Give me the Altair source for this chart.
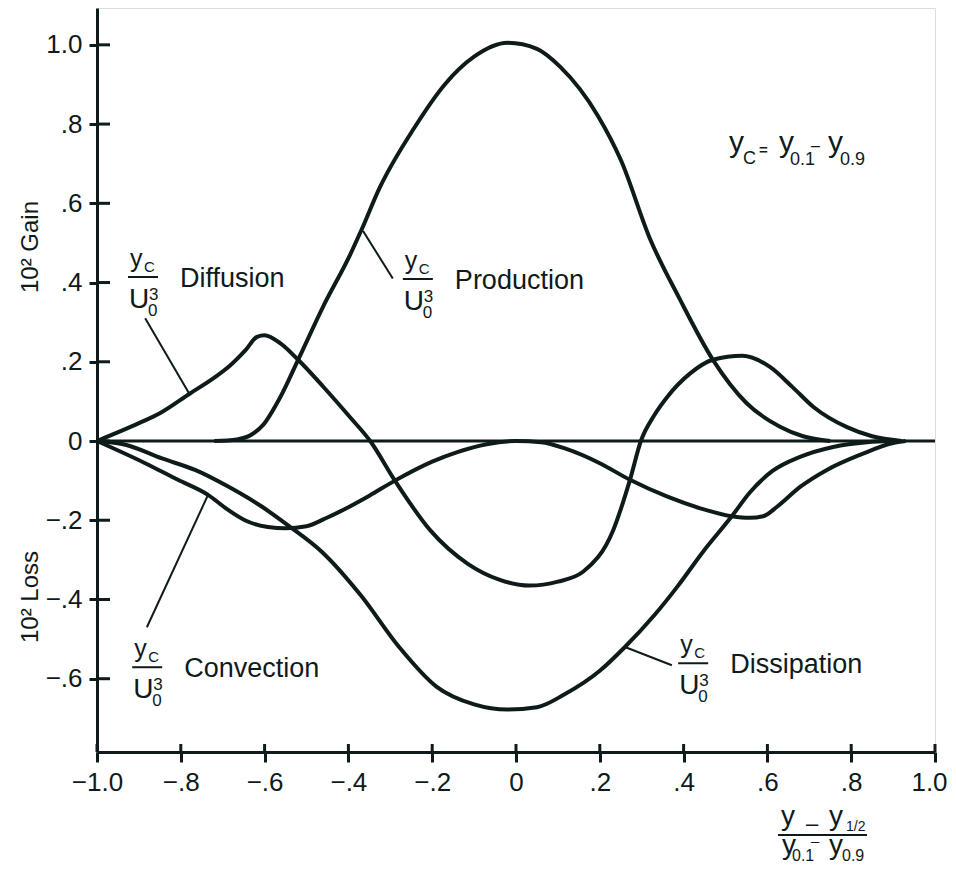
import altair as alt
import pandas as pd

# ---------------- data ----------------
prod_x = [-0.72, -0.666, -0.63, -0.604, -0.563, -0.52, -0.46, -0.396, -0.37, -0.325, -0.243, -0.17, -0.1, -0.02,
          0.05, 0.105, 0.196, 0.25, 0.32, 0.39, 0.47, 0.55, 0.63, 0.685, 0.75]
prod_y = [0.0, 0.004, 0.017, 0.04, 0.11, 0.205, 0.34, 0.47, 0.53, 0.64, 0.79, 0.90, 0.97, 1.005,
          0.99, 0.945, 0.82, 0.71, 0.51, 0.36, 0.205, 0.096, 0.036, 0.012, 0.0]

diff_x = [-1.0, -0.9, -0.85, -0.778, -0.72, -0.683, -0.645, -0.618, -0.6, -0.563, -0.52, -0.46, -0.396, -0.348,
          -0.289, -0.205, -0.115, -0.04, 0.031, 0.1, 0.16, 0.232, 0.272, 0.298, 0.33, 0.36, 0.415, 0.47, 0.54,
          0.606, 0.66, 0.71, 0.79, 0.85, 0.92]
diff_y = [0.0, 0.045, 0.07, 0.12, 0.16, 0.19, 0.23, 0.263, 0.267, 0.247, 0.205, 0.137, 0.06, 0.0,
          -0.1, -0.225, -0.31, -0.35, -0.365, -0.355, -0.33, -0.225, -0.098, 0.0, 0.065, 0.11, 0.17, 0.205, 0.215,
          0.187, 0.136, 0.086, 0.035, 0.012, 0.0]

conv_x = [-1.0, -0.885, -0.807, -0.735, -0.687, -0.647, -0.592, -0.55, -0.5, -0.45, -0.4, -0.35, -0.289, -0.2,
          -0.14, -0.07, 0.0, 0.06, 0.12, 0.2, 0.272, 0.36, 0.44, 0.515, 0.558, 0.59, 0.623, 0.678, 0.742, 0.821,
          0.9, 0.93]
conv_y = [0.0, -0.056, -0.098, -0.136, -0.174, -0.2, -0.217, -0.22, -0.215, -0.193, -0.167, -0.138, -0.1, -0.052,
          -0.028, -0.008, 0.0, -0.003, -0.02, -0.056, -0.098, -0.14, -0.17, -0.19, -0.194, -0.19, -0.166, -0.116,
          -0.073, -0.035, -0.005, 0.0]

diss_x = [-1.0, -0.93, -0.845, -0.766, -0.687, -0.606, -0.544, -0.463, -0.37, -0.279, -0.19, -0.1, -0.02,
          0.05, 0.115, 0.2, 0.26, 0.33, 0.387, 0.446, 0.515, 0.558, 0.613, 0.678, 0.757, 0.838, 0.9]
diss_y = [0.0, -0.01, -0.044, -0.073, -0.115, -0.166, -0.213, -0.28, -0.39, -0.52, -0.62, -0.665, -0.678,
          -0.672, -0.64, -0.58, -0.52, -0.44, -0.365, -0.28, -0.19, -0.13, -0.075, -0.04, -0.015, -0.003, 0.0]

series = ["Production", "Diffusion", "Convection", "Dissipation"]

x_ticks = [-1.0, -0.8, -0.6, -0.4, -0.2, 0.0, 0.2, 0.4, 0.6, 0.8, 1.0]
x_tick_labels = ["\u22121.0", "\u2212.8", "\u2212.6", "\u2212.4", "\u2212.2", "0", ".2", ".4", ".6", ".8", "1.0"]
y_ticks = [-0.6, -0.4, -0.2, 0.0, 0.2, 0.4, 0.6, 0.8, 1.0]
y_tick_labels = ["\u2212.6", "\u2212.4", "\u2212.2", "0", ".2", ".4", ".6", ".8", "1.0"]

# label anchors (left end of the fraction bar) and leader lines, in data units
label_x = [-0.270, -0.926, -0.916, 0.387]
label_y = [0.409, 0.414, -0.571, -0.561]
leader_x0 = [-0.365, -0.885, -0.881, 0.372]
leader_y0 = [0.53, 0.31, -0.47, -0.566]
leader_x1 = [-0.294, -0.778, -0.735, 0.26]
leader_y1 = [0.41, 0.116, -0.136, -0.52]

# ---------------- build tables ----------------
curves = pd.concat([
    pd.DataFrame({"x": prod_x, "y": prod_y, "s": "Production"}),
    pd.DataFrame({"x": diff_x, "y": diff_y, "s": "Diffusion"}),
    pd.DataFrame({"x": conv_x, "y": conv_y, "s": "Convection"}),
    pd.DataFrame({"x": diss_x, "y": diss_y, "s": "Dissipation"}),
], ignore_index=True)

zero_df = pd.DataFrame({"x": [-1.0, 1.0], "y": [0.0, 0.0]})

BAR_W = 30 / 419.0
labels = pd.DataFrame({"s": series, "x": label_x, "y": label_y,
                       "x2": [v + BAR_W for v in label_x]})
leaders = pd.concat([
    pd.DataFrame({"s": series, "x": leader_x0, "y": leader_y0, "o": 0}),
    pd.DataFrame({"s": series, "x": leader_x1, "y": leader_y1, "o": 1}),
], ignore_index=True)

xt_df = pd.DataFrame({"v": x_ticks})
yt_df = pd.DataFrame({"v": y_ticks})
one = pd.DataFrame({"a": [0]})

INK = "#0f1a1a"
FONT = "Liberation Sans"
W, H = 838, 744
OX, OY = 97, 8  # page position of plot origin

x_expr = "[" + ",".join("'%s'" % s for s in x_tick_labels) + "][round((datum.value + 1) * 5)]"
y_expr = "[" + ",".join("'%s'" % s for s in y_tick_labels) + "][round((datum.value + 0.6) * 5)]"

xs = alt.Scale(domain=[-1.0, 1.0], nice=False, zero=False)
ys = alt.Scale(domain=[-0.785, 1.093], nice=False, zero=False)

x_axis = alt.Axis(values=x_ticks, labelExpr=x_expr, tickSize=10, tickWidth=3, domainWidth=3,
                  domainColor=INK, tickColor=INK, labelColor=INK, labelFontSize=26, labelFont=FONT,
                  labelPadding=7, grid=False, title=None, labelFlush=False, labelOverlap=False,
                  labelOffset={"condition": {"test": "datum.value == 1", "value": -6}, "value": 0})
y_axis = alt.Axis(values=y_ticks, labelExpr=y_expr, tickSize=8, tickWidth=3, domainWidth=3,
                  domainColor=INK, tickColor=INK, labelColor=INK, labelFontSize=26, labelFont=FONT,
                  labelPadding=7, grid=False, title=None, labelFlush=False, labelOverlap=False)

zero_line = alt.Chart(zero_df).mark_line(color=INK, strokeWidth=3).encode(
    x=alt.X("x:Q", scale=xs, axis=x_axis),
    y=alt.Y("y:Q", scale=ys, axis=y_axis),
)

lines = alt.Chart(curves).mark_line(color=INK, strokeWidth=4, interpolate="monotone").encode(
    x=alt.X("x:Q", scale=xs), y=alt.Y("y:Q", scale=ys), detail="s:N", order=alt.Order("x:Q"))

leader_lines = alt.Chart(leaders).mark_line(color=INK, strokeWidth=2).encode(
    x=alt.X("x:Q", scale=xs), y=alt.Y("y:Q", scale=ys), detail="s:N", order="o:Q")

# inward halves of the ticks
y_in = alt.Chart(yt_df).mark_rule(color=INK, strokeWidth=3).encode(
    y=alt.Y("v:Q", scale=ys), x=alt.value(0), x2=alt.value(13))
x_in = alt.Chart(xt_df).mark_rule(color=INK, strokeWidth=3).encode(
    x=alt.X("v:Q", scale=xs), y=alt.value(H), y2=alt.value(H - 8))

# fraction labels  yc / U0^3  Word
def lab(text=None, dx=0, dy=0, size=26, field=None):
    kw = dict(align="left", baseline="alphabetic", dx=dx, dy=dy, fontSize=size, font=FONT, color=INK)
    if text is not None:
        kw["text"] = text
    ch = alt.Chart(labels).mark_text(**kw)
    enc = dict(x=alt.X("x:Q", scale=xs), y=alt.Y("y:Q", scale=ys))
    if field is not None:
        enc["text"] = alt.Text(field + ":N")
    return ch.encode(**enc)

frac_bar = alt.Chart(labels).mark_rule(color=INK, strokeWidth=2).encode(
    x=alt.X("x:Q", scale=xs), x2="x2:Q", y=alt.Y("y:Q", scale=ys))

label_layers = [
    frac_bar,
    lab("y", dx=2, dy=-10, size=25),
    lab("C", dx=16, dy=-5, size=15),
    lab("U", dx=1, dy=31, size=28),
    lab("0", dx=20, dy=39, size=17),
    lab("3", dx=21, dy=23, size=17),
    lab(dx=52, dy=10, size=27, field="s"),
]

# free text pieces (page pixel positions)
def txt(s, px, py, size, **kw):
    return alt.Chart(one).mark_text(text=s, align=kw.pop("align", "left"), baseline=kw.pop("baseline", "alphabetic"),
                                    fontSize=size, font=FONT, color=INK, **kw).encode(
        x=alt.value(px - OX), y=alt.value(py - OY))

def hbar(px0, px1, py, w=2):
    return alt.Chart(one).mark_rule(color=INK, strokeWidth=w).encode(
        x=alt.value(px0 - OX), x2=alt.value(px1 - OX), y=alt.value(py - OY))

free = [
    # y axis titles
    txt("10\u00b2 Gain", 31, 247, 24, angle=270, align="center", baseline="middle"),
    txt("10\u00b2 Loss", 31, 597, 24, angle=270, align="center", baseline="middle"),
    # yc = y0.1 - y0.9
    txt("y", 729, 152, 30),
    txt("C", 743, 164, 18),
    txt("=", 759, 155, 15, fontWeight="bold"),
    txt("y", 779, 152, 30),
    txt("0.1", 790, 165, 18),
    txt("\u2013", 811, 151, 16),
    txt("y", 828, 152, 30),
    txt("0.9", 840, 165, 18),
    # x axis title fraction
    txt("y", 781, 825, 28),
    txt("\u2013", 806, 831, 22),
    txt("y", 829, 825, 28),
    txt("1/2", 846, 831, 14),
    hbar(778, 867, 835, 2),
    txt("y", 782, 854, 28),
    txt("0.1", 792, 861, 16),
    txt("\u2013", 811, 846, 15),
    txt("y", 829, 854, 28),
    txt("0.9", 842, 861, 16),
]

chart = alt.layer(zero_line, lines, leader_lines, y_in, x_in, *label_layers, *free).properties(
    width=W, height=H,
    autosize=alt.AutoSizeParams(type="none"),
    padding={"left": 89, "top": 0, "right": 13, "bottom": 113},
).configure_view(stroke=None).configure(background="white")

chart.save("out.html", embed_options={"renderer": "svg", "actions": False})
